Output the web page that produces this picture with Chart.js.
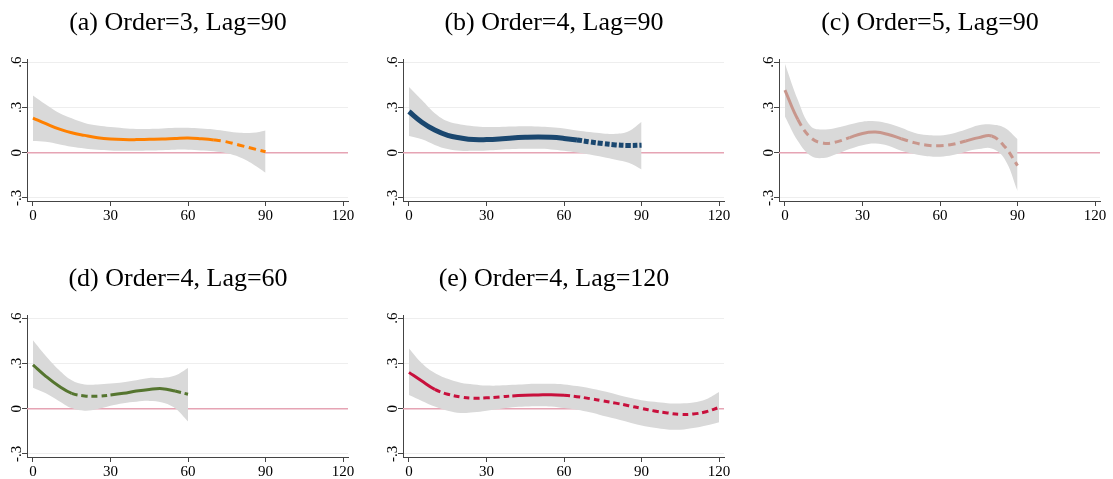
<!DOCTYPE html>
<html>
<head>
<meta charset="utf-8">
<script src="https://cdn.jsdelivr.net/npm/chart.js@4"></script>
<style>
  body { margin: 0; background: #fff; width: 1113px; height: 479px; position: relative; overflow: hidden; }
  .panel { position: absolute; width: 356px; height: 226px; }
</style>
</head>
<body>
<div class="panel" style="left:0;top:0"><canvas id="chartA" width="356" height="226"></canvas></div>
<div class="panel" style="left:376px;top:0"><canvas id="chartB" width="356" height="226"></canvas></div>
<div class="panel" style="left:752px;top:0"><canvas id="chartC" width="356" height="226"></canvas></div>
<div class="panel" style="left:0;top:256px"><canvas id="chartD" width="356" height="226"></canvas></div>
<div class="panel" style="left:376px;top:256px"><canvas id="chartE" width="356" height="226"></canvas></div>
<script>
// axes
const xTicks = [0, 30, 60, 90, 120];
const yTicks = [-0.3, 0, 0.3, 0.6];
const yTickLabels = ['-.3', '0', '.3', '.6'];

// (a) Order=3, Lag=90
const lagA = [0, 5, 10, 15, 20, 25, 30, 35, 40, 45, 50, 55, 60, 65, 70, 75, 80, 85, 90];
const estA = [.23, .193, .158, .132, .115, .10, .091, .087, .087, .089, .091, .095, .098, .093, .085, .072, .05, .028, .007];
const upA  = [.38, .32, .265, .228, .197, .18, .17, .163, .158, .158, .16, .165, .165, .16, .154, .143, .132, .132, .148];
const loA  = [.078, .072, .056, .039, .028, .02, .015, .013, .013, .015, .017, .02, .02, .015, .009, -.004, -.03, -.074, -.132];

// (b) Order=4, Lag=90
const lagB = [0, 5, 10, 15, 20, 25, 30, 35, 40, 45, 50, 55, 60, 65, 70, 75, 80, 85, 90];
const estB = [.273, .202, .15, .115, .098, .087, .087, .091, .098, .102, .104, .102, .095, .085, .072, .061, .052, .048, .05];
const upB  = [.436, .349, .262, .208, .187, .176, .171, .171, .174, .176, .174, .169, .161, .148, .137, .128, .126, .143, .206];
const loB  = [.111, .089, .052, .024, .013, .013, .015, .02, .024, .026, .026, .022, .013, .002, -.011, -.028, -.046, -.067, -.111];

// (c) Order=5, Lag=90
const lagC = [0, 5, 10, 15, 20, 25, 30, 35, 40, 45, 50, 55, 60, 65, 70, 75, 80, 85, 90];
const estC = [.415, .22, .10, .063, .072, .10, .128, .137, .121, .093, .067, .05, .046, .056, .078, .10, .111, .041, -.085];
const upC  = [.59, .35, .176, .154, .165, .187, .206, .208, .193, .165, .132, .117, .115, .128, .154, .182, .187, .165, .089];
const loC  = [.24, .078, -.02, -.035, -.009, .024, .05, .061, .046, .013, -.009, -.024, -.026, -.015, .007, .024, .028, -.041, -.254];

// (d) Order=4, Lag=60
const lagD = [0, 5, 10, 15, 20, 25, 30, 35, 40, 45, 50, 55, 60];
const estD = [.291, .215, .15, .102, .085, .083, .091, .102, .117, .128, .133, .117, .096];
const upD  = [.454, .35, .259, .189, .161, .161, .167, .176, .189, .204, .204, .22, .27];
const loD  = [.139, .102, .052, .004, -.013, -.002, .02, .037, .046, .052, .041, .003, -.085];

// (e) Order=4, Lag=120
const lagE = [0, 5, 10, 15, 20, 25, 30, 35, 40, 45, 50, 55, 60, 65, 70, 75, 80, 85, 90, 95, 100, 105, 110, 115, 120];
const estE = [.241, .183, .128, .096, .078, .07, .072, .078, .085, .089, .091, .093, .089, .08, .067, .052, .037, .02, .002, -.015, -.028, -.037, -.035, -.02, .009];
const upE  = [.40, .302, .237, .198, .172, .161, .154, .154, .159, .163, .165, .165, .161, .15, .135, .117, .096, .074, .057, .046, .037, .035, .041, .063, .111];
const loE  = [.091, .052, .015, -.013, -.028, -.024, -.013, -.002, .009, .015, .017, .015, .004, -.007, -.024, -.046, -.067, -.089, -.111, -.126, -.137, -.139, -.128, -.111, -.089];

const serif = 'Liberation Serif, Times New Roman, serif';

const zeroAndLabels = {
    id: 'zeroAndLabels',
    beforeDatasetsDraw(chart) {
        const ctx = chart.ctx, area = chart.chartArea;
        const y0 = chart.scales.y.getPixelForValue(0);
        ctx.save();
        ctx.strokeStyle = '#e6a4b4';
        ctx.lineWidth = 1.3;
        ctx.beginPath();
        ctx.moveTo(area.left, y0);
        ctx.lineTo(area.right, y0);
        ctx.stroke();
        ctx.restore();
    },
    afterDraw(chart) {
        const ctx = chart.ctx, ys = chart.scales.y;
        ctx.save();
        ctx.fillStyle = '#000';
        ctx.font = '15px ' + serif;
        ctx.textAlign = 'center';
        ctx.textBaseline = 'alphabetic';
        yTicks.forEach((v, i) => {
            ctx.save();
            ctx.translate(chart.chartArea.left - 6, ys.getPixelForValue(v));
            ctx.rotate(-Math.PI / 2);
            ctx.fillText(yTickLabels[i], 0, 0);
            ctx.restore();
        });
        ctx.restore();
    }
};

function pts(xs, vs) {
    return xs.map((x, i) => ({x: x, y: vs[i]}));
}

function panel(id, title, lags, est, up, lo, color, width, dash) {
    const ctx = document.getElementById(id);
    // datasets are painted last-to-first, so the estimate goes first to sit on top of the band
    const data = {
        datasets: [{
            data: pts(lags, est),
            borderColor: color,
            borderWidth: width,
            pointRadius: 0,
            tension: 0.4,
            fill: false,
            segment: {
                borderDash: c => (lo[c.p0DataIndex] > 0 && lo[c.p1DataIndex] > 0) ? undefined : dash
            }
        }, {
            data: pts(lags, up),
            borderWidth: 0,
            pointRadius: 0,
            tension: 0.4,
            fill: '+1',
            backgroundColor: '#d9d9d9'
        }, {
            data: pts(lags, lo),
            borderWidth: 0,
            pointRadius: 0,
            tension: 0.4,
            fill: false
        }]
    };
    const option = {
        responsive: false,
        animation: false,
        layout: { padding: 0 },
        plugins: {
            legend: { display: false },
            tooltip: { enabled: false },
            title: {
                display: true,
                text: title,
                color: '#000',
                font: { family: serif, size: 26, weight: 'normal' },
                padding: { top: 8, bottom: 20 }
            }
        },
        scales: {
            x: {
                type: 'linear',
                min: -2.3,
                max: 121.9,
                afterBuildTicks: s => { s.ticks = xTicks.map(v => ({value: v})); },
                grid: { drawOnChartArea: false, tickLength: 5, tickColor: '#444' },
                border: { color: '#444', width: 1 },
                ticks: { color: '#000', font: { family: serif, size: 15 }, padding: 1, maxRotation: 0 }
            },
            y: {
                min: -0.32,
                max: 0.62,
                afterBuildTicks: s => { s.ticks = yTicks.map(v => ({value: v})); },
                afterFit: s => { s.width = 27; },
                grid: { color: '#eeeeee', tickLength: 5, tickColor: '#444' },
                border: { color: '#444', width: 1 },
                ticks: { display: false }
            },
            yR: {
                position: 'right',
                afterFit: s => { s.width = 8; },
                grid: { display: false },
                border: { display: false },
                ticks: { display: false }
            }
        }
    };
    new Chart(ctx, {
        type: 'line',
        data: data,
        options: option,
        plugins: [zeroAndLabels]
    });
}

panel('chartA', '(a) Order=3, Lag=90', lagA, estA, upA, loA, '#ff8000', 3, [7, 5]);
panel('chartB', '(b) Order=4, Lag=90', lagB, estB, upB, loB, '#1a476f', 5, [5, 2]);
panel('chartC', '(c) Order=5, Lag=90', lagC, estC, upC, loC, '#c8968c', 3, [7, 5]);
panel('chartD', '(d) Order=4, Lag=60', lagD, estD, upD, loD, '#55752f', 3, [6, 4]);
panel('chartE', '(e) Order=4, Lag=120', lagE, estE, upE, loE, '#c8103c', 3, [6, 4]);
</script>
</body>
</html>
